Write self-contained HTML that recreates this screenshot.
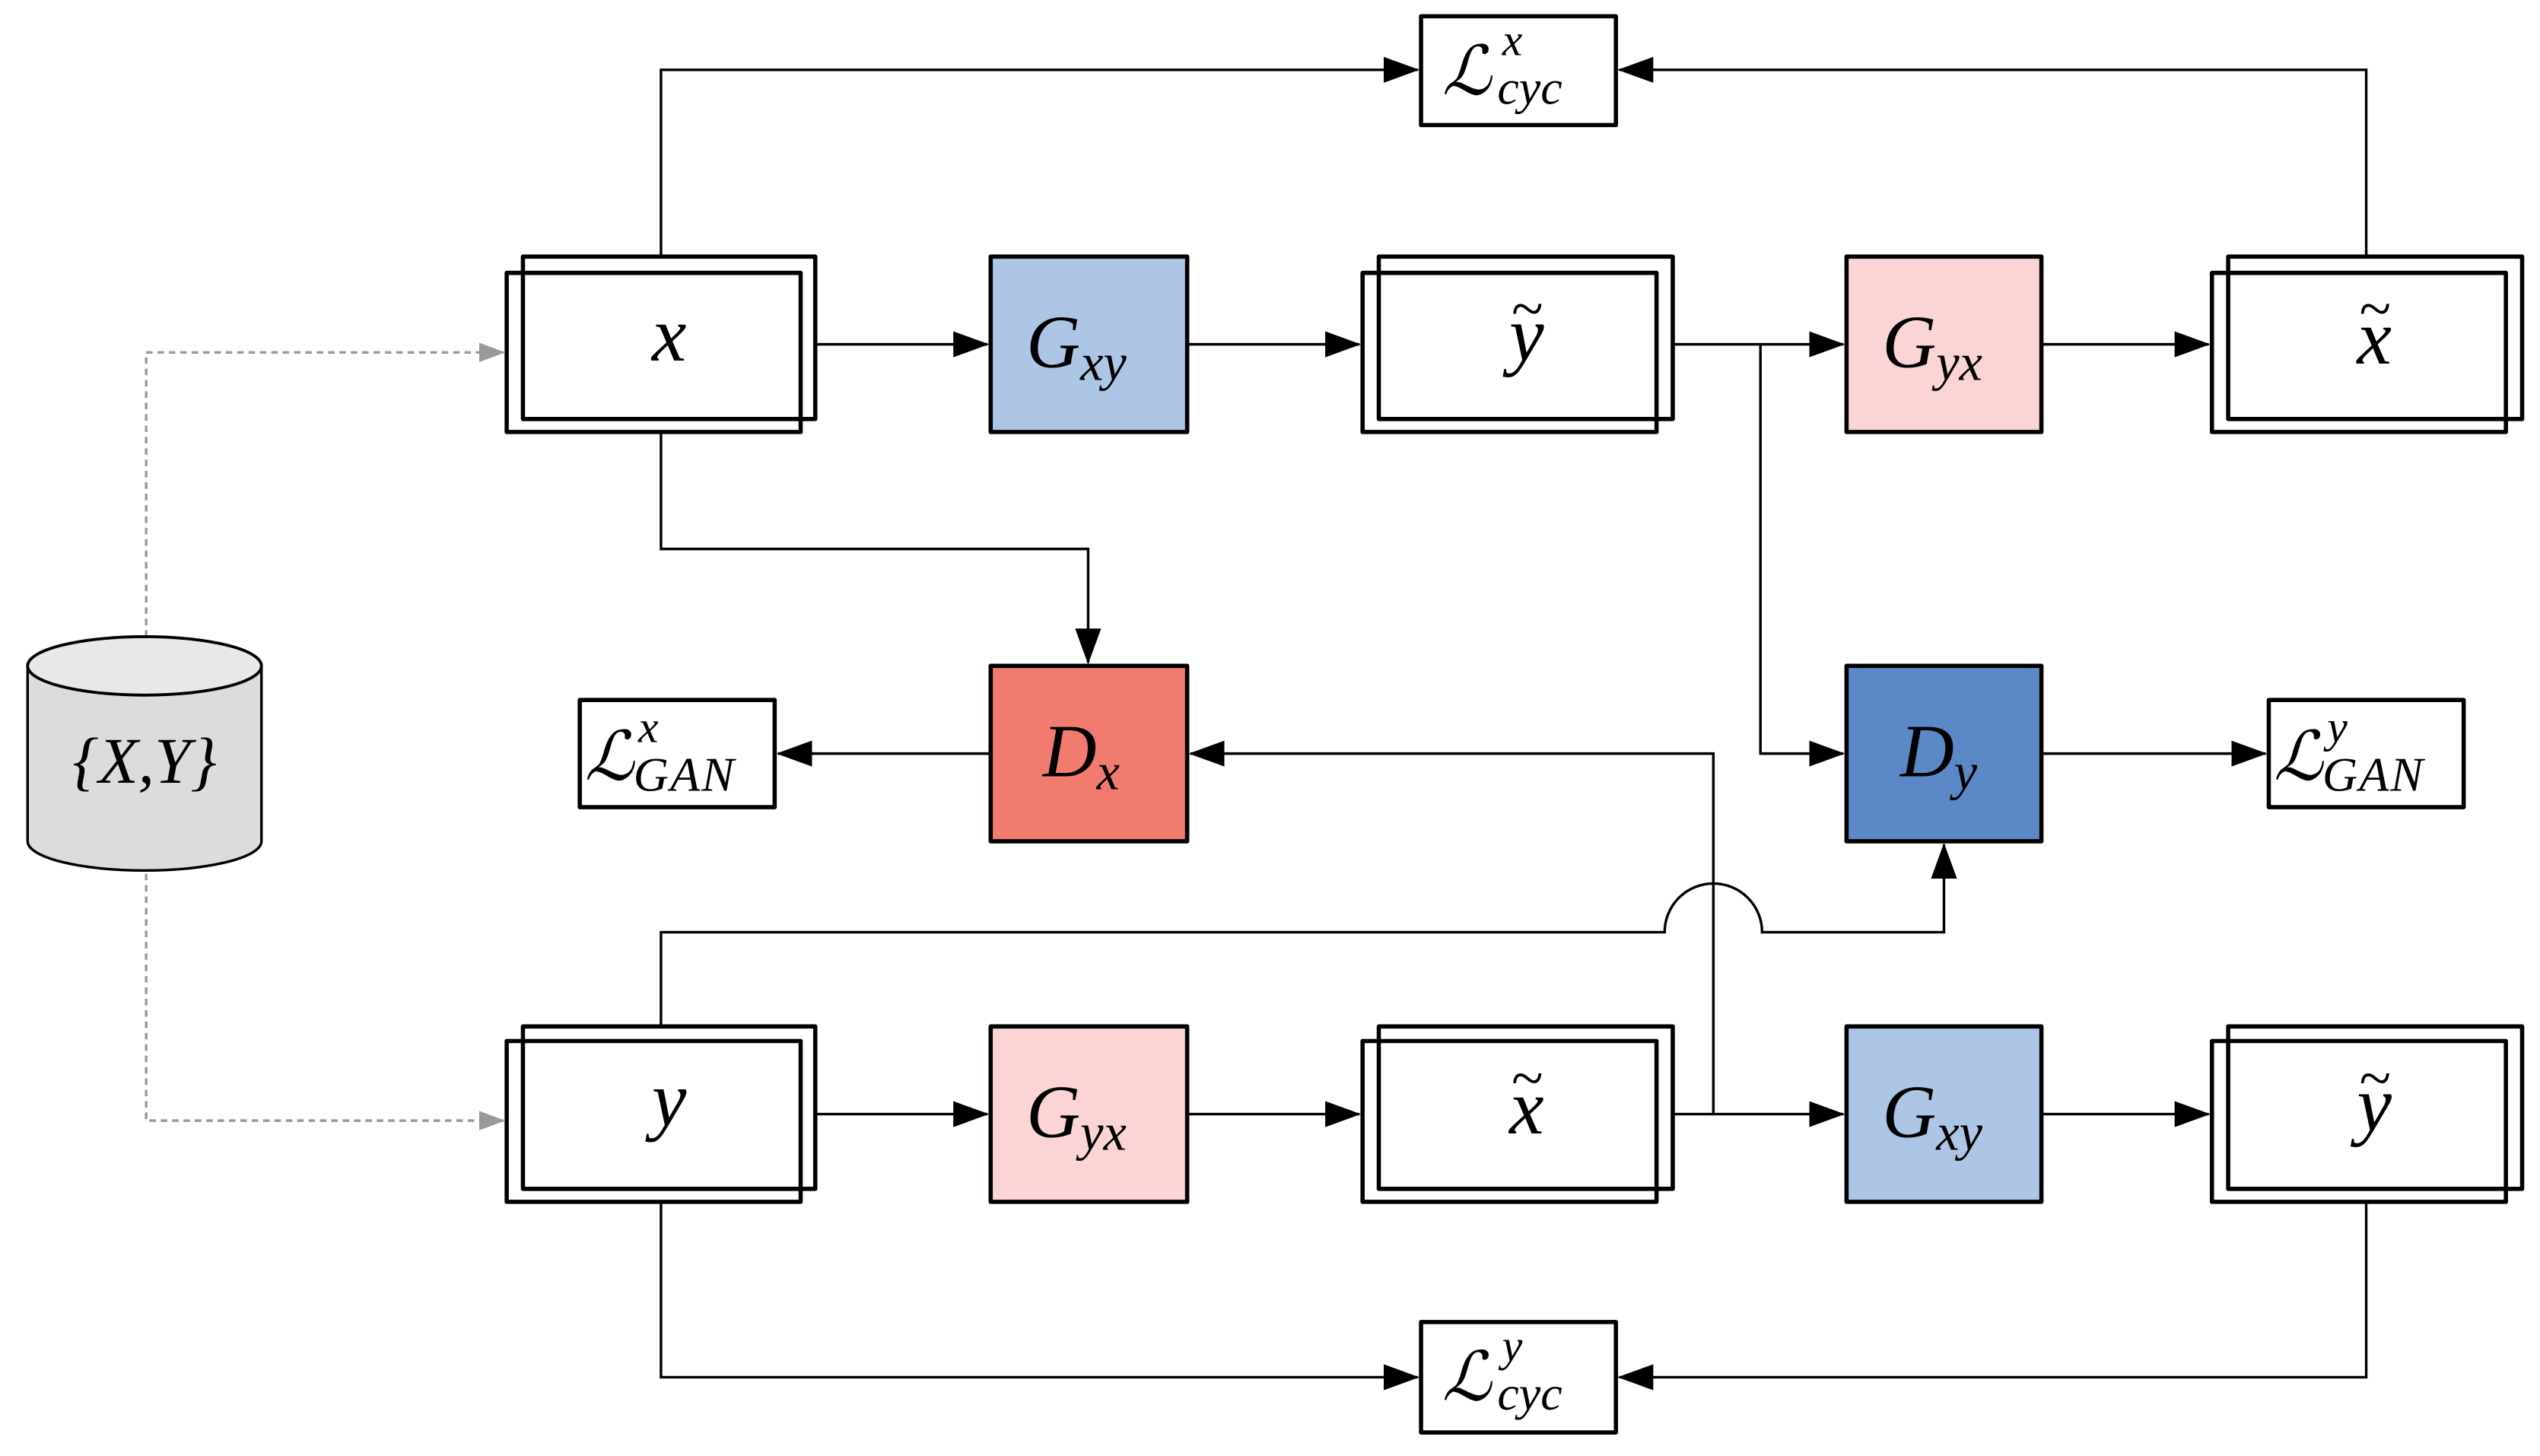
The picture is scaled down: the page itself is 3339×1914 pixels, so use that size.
<!DOCTYPE html>
<html><head><meta charset="utf-8"><style>
html,body{margin:0;padding:0;background:#fff;}
svg{display:block;}
text{font-family:"Liberation Serif","DejaVu Serif",serif;font-style:italic;fill:#000;}
</style></head><body>
<svg width="3339" height="1914" viewBox="0 0 1564 896.5" preserveAspectRatio="none" xmlns="http://www.w3.org/2000/svg">
<defs>
<marker id="a" markerWidth="22" markerHeight="16" refX="21" refY="8" orient="auto" markerUnits="userSpaceOnUse"><path d="M0,0 L22,8 L0,16 z" fill="#000"/></marker>
<marker id="g" markerWidth="16" markerHeight="12" refX="15" refY="6" orient="auto" markerUnits="userSpaceOnUse"><path d="M0,0 L16,6 L0,12 z" fill="#999"/></marker>
</defs>
<g fill="none" stroke="#000" stroke-width="1.6">
<path d="M407,158 V43 H873" marker-end="url(#a)"/>
<path d="M1457,158 V43 H997" marker-end="url(#a)"/>
<path d="M502,212 H608" marker-end="url(#a)"/>
<path d="M731,212 H837" marker-end="url(#a)"/>
<path d="M1030,212 H1135" marker-end="url(#a)"/>
<path d="M1257,212 H1360" marker-end="url(#a)"/>
<path d="M1084,212 V464 H1135" marker-end="url(#a)"/>
<path d="M407,266 V338 H670 V408" marker-end="url(#a)"/>
<path d="M610,464 H479" marker-end="url(#a)"/>
<path d="M1257,464 H1395" marker-end="url(#a)"/>
<path d="M1055,686 V464 H733" marker-end="url(#a)"/>
<path d="M407,632 V574 H1025 A30,30 0 0 1 1085,574 H1197 V520" marker-end="url(#a)"/>
<path d="M502,686 H608" marker-end="url(#a)"/>
<path d="M731,686 H837" marker-end="url(#a)"/>
<path d="M1030,686 H1135" marker-end="url(#a)"/>
<path d="M1257,686 H1360" marker-end="url(#a)"/>
<path d="M407,740 V848 H873" marker-end="url(#a)"/>
<path d="M1457,740 V848 H997" marker-end="url(#a)"/>
</g>
<g fill="none" stroke="#999" stroke-width="1.6" stroke-dasharray="4,3">
<path d="M90,392 V217 H310" marker-end="url(#g)"/>
<path d="M90,538 V690 H310" marker-end="url(#g)"/>
</g>
<path d="M17,410 V518 A72,18 0 0 0 161,518 V410" fill="#dcdcdc" stroke="#000" stroke-width="1.6"/>
<ellipse cx="89" cy="410" rx="72" ry="18" fill="#e8e8e8" stroke="#000" stroke-width="1.8"/>
<text x="89" y="482" font-size="40" text-anchor="middle" font-style="normal">{<tspan font-style="italic">X</tspan>,<tspan font-style="italic">Y</tspan>}</text>
<g stroke="#000" stroke-width="2.6" stroke-linejoin="round">
<rect x="322" y="158" width="180" height="100" fill="none"/><rect x="312" y="168" width="181" height="98" fill="none"/>
<rect x="849" y="158" width="181" height="100" fill="none"/><rect x="839" y="168" width="181" height="98" fill="none"/>
<rect x="1372" y="158" width="181" height="100" fill="none"/><rect x="1362" y="168" width="181" height="98" fill="none"/>
<rect x="322" y="632" width="180" height="100" fill="none"/><rect x="312" y="641" width="181" height="99" fill="none"/>
<rect x="849" y="632" width="181" height="100" fill="none"/><rect x="839" y="641" width="181" height="99" fill="none"/>
<rect x="1372" y="632" width="181" height="100" fill="none"/><rect x="1362" y="641" width="181" height="99" fill="none"/>
<rect x="610" y="158" width="121" height="108" fill="#aec6e6"/>
<rect x="1137" y="158" width="120" height="108" fill="#fbd5d5"/>
<rect x="610" y="632" width="121" height="108" fill="#fbd5d5"/>
<rect x="1137" y="632" width="120" height="108" fill="#aec6e6"/>
<rect x="610" y="410" width="121" height="108" fill="#f27b70"/>
<rect x="1137" y="410" width="120" height="108" fill="#5b88c6"/>
<rect x="875" y="10" width="120" height="67" fill="#fff"/>
<rect x="875" y="814" width="120" height="68" fill="#fff"/>
<rect x="357" y="431" width="120" height="66" fill="#fff"/>
<rect x="1397" y="431" width="120" height="66" fill="#fff"/>
</g>
<g font-size="48" text-anchor="middle">
<text x="412" y="222">x</text>
<text x="412" y="693">y</text>
<text x="940" y="222">y</text><text x="940" y="202" font-size="36" font-style="normal">~</text>
<text x="1462" y="224">x</text><text x="1462" y="202" font-size="36" font-style="normal">~</text>
<text x="940" y="698">x</text><text x="940" y="676" font-size="36" font-style="normal">~</text>
<text x="1462" y="696">y</text><text x="1462" y="676" font-size="36" font-style="normal">~</text>
</g>
<g font-size="46">
<text x="632" y="226">G<tspan font-size="32" dy="8">xy</tspan></text>
<text x="1159" y="226">G<tspan font-size="32" dy="8">yx</tspan></text>
<text x="632" y="700">G<tspan font-size="32" dy="8">yx</tspan></text>
<text x="1159" y="700">G<tspan font-size="32" dy="8">xy</tspan></text>
<text x="642" y="478">D<tspan font-size="32" dy="8">x</tspan></text>
<text x="1170" y="478">D<tspan font-size="32" dy="8">y</tspan></text>
</g>
<g font-size="42">
<text x="888" y="58">ℒ</text><text x="925" y="34" font-size="28">x</text><text x="922" y="64" font-size="30">cyc</text>
<text x="888" y="862">ℒ</text><text x="925" y="838" font-size="28">y</text><text x="922" y="868" font-size="30">cyc</text>
<text x="360" y="480">ℒ</text><text x="393" y="457" font-size="28">x</text><text x="390" y="487" font-size="30" letter-spacing="1">GAN</text>
<text x="1400" y="480">ℒ</text><text x="1433" y="457" font-size="28">y</text><text x="1430" y="487" font-size="30" letter-spacing="1">GAN</text>
</g>
</svg>
</body></html>
